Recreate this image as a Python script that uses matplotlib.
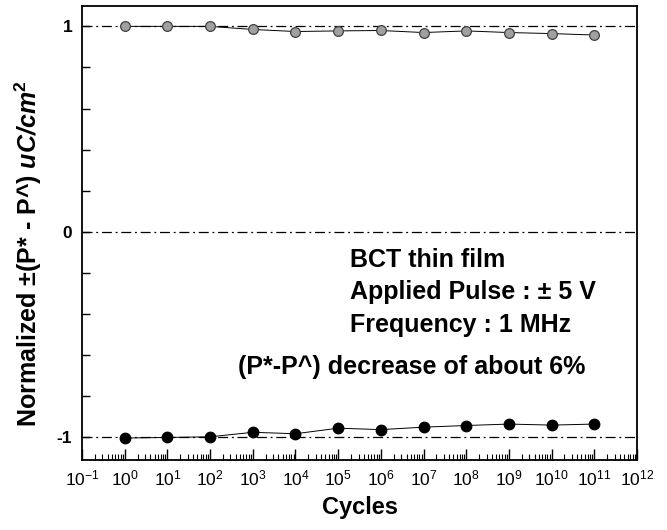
import numpy as np
import matplotlib
matplotlib.use("Agg")
import matplotlib.pyplot as plt
from matplotlib.ticker import LogLocator, FixedLocator, NullFormatter

plt.rcParams["font.family"] = ["Liberation Sans", "DejaVu Sans"]
plt.rcParams["mathtext.fontset"] = "custom"
plt.rcParams["mathtext.rm"] = "Liberation Sans"
plt.rcParams["mathtext.it"] = "Liberation Sans:italic"
plt.rcParams["mathtext.bf"] = "Liberation Sans:bold"
plt.rcParams["mathtext.bfit"] = "Liberation Sans:bold:italic"
plt.rcParams["axes.unicode_minus"] = False

# cycles 10^0 .. 10^11
cycles = [1e0, 1e1, 1e2, 1e3, 1e4, 1e5, 1e6, 1e7, 1e8, 1e9, 1e10, 1e11]
p_pos = [1.0, 1.0, 1.0, 0.985, 0.975, 0.978, 0.98, 0.97, 0.978, 0.97, 0.965, 0.958]
p_neg = [-1.003, -1.0, -0.997, -0.975, -0.982, -0.955, -0.962, -0.95, -0.942, -0.935, -0.94, -0.935]
ref_levels = [1, 0, -1]
y_ticks = [-1, 0, 1]
y_ticklabels = ["-1", "0", "1"]

fig = plt.figure(figsize=(6.67, 5.30), dpi=100)
ax = fig.add_axes([0.123, 0.132, 0.832, 0.857])

# reference dash-dot lines
for lv in ref_levels:
    ax.axhline(lv, color="black", linestyle="-.", linewidth=0.9, dashes=(8, 3, 1.5, 3))

ax.plot(cycles, p_pos, color="black", linewidth=0.7, marker="o", markersize=7,
        markerfacecolor="#a0a0a0", markeredgecolor="#404040", markeredgewidth=0.9)
ax.plot(cycles, p_neg, color="black", linewidth=0.7, marker="o", markersize=7.5,
        markerfacecolor="black", markeredgecolor="black")

ax.set_xscale("log")
ax.set_xlim(1e-1, 1e12)
ax.set_ylim(-1.11, 1.10)

ax.xaxis.set_major_locator(LogLocator(base=10, numticks=20))
ax.xaxis.set_minor_locator(LogLocator(base=10, subs=np.arange(2, 10), numticks=20))
ax.xaxis.set_minor_formatter(NullFormatter())
ax.set_yticks(y_ticks)
ax.set_yticklabels(y_ticklabels, fontweight="bold")
ax.yaxis.set_minor_locator(FixedLocator(np.arange(-1.0, 1.01, 0.2)))

ax.tick_params(axis="both", which="both", direction="in", top=False, right=False)
ax.tick_params(axis="x", which="major", length=8, width=1, labelsize=12.5, pad=6)
ax.tick_params(axis="x", which="minor", length=4, width=0.8)
ax.tick_params(axis="y", which="major", length=6, width=1, labelsize=12.5, pad=7)
ax.tick_params(axis="y", which="minor", length=6, width=1)
for sp in ax.spines.values():
    sp.set_linewidth(1.3)

ax.set_xlabel("Cycles", fontsize=17, fontweight="bold")
ax.xaxis.set_label_coords(0.5, -0.08)
ax.set_ylabel(r"Normalized $\mathbf{\pm}$(P* - P^) $\mathbfit{uC/cm}^{\mathbf{2}}$",
              fontsize=18, fontweight="bold")
ax.yaxis.set_label_coords(-0.068, 0.455)

txt = dict(fontsize=18, fontweight="bold", transform=ax.transAxes, va="center")
ax.text(0.483, 0.441, "BCT thin film", **txt)
ax.text(0.483, 0.370, "Applied Pulse : \u00b1 5 V", **txt)
ax.text(0.483, 0.298, "Frequency : 1 MHz", **txt)
ax.text(0.281, 0.205, "(P*-P^) decrease of about 6%", **txt)

fig.savefig("out.png", dpi=100)
